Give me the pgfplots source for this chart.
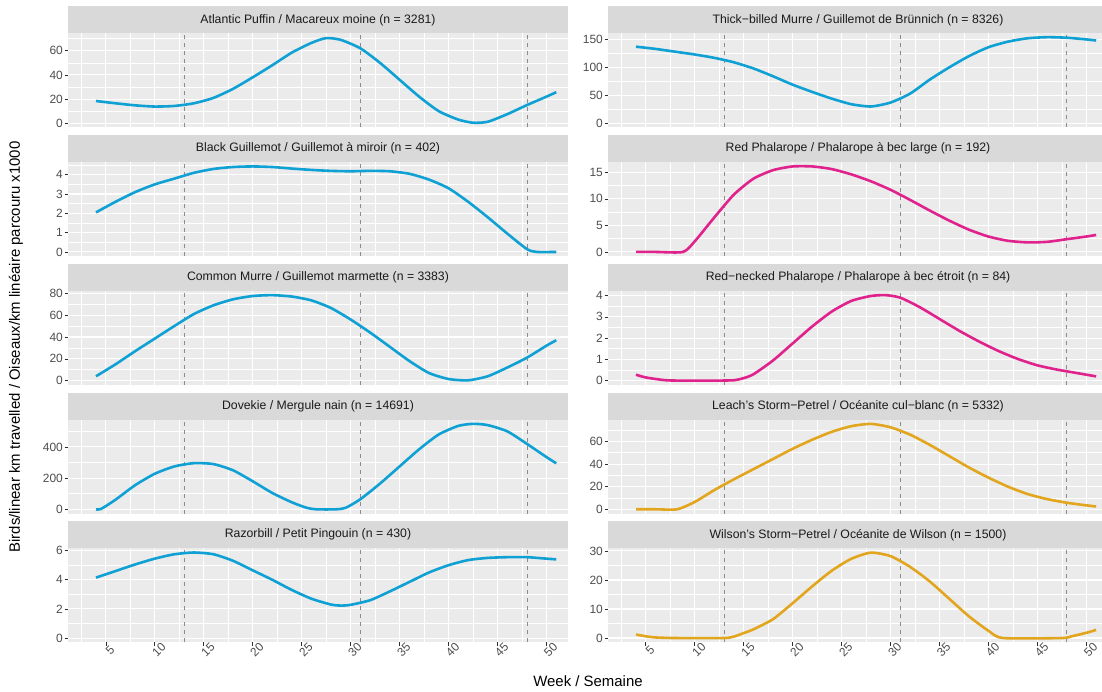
\documentclass[border=0pt]{standalone}
\usepackage{pgfplots}
\pgfplotsset{compat=1.18}
\usepackage{fontspec}
\setmainfont{Liberation Sans}
\definecolor{panelbg}{HTML}{EBEBEB}
\definecolor{stripbg}{HTML}{D9D9D9}
\definecolor{ticklab}{HTML}{4D4D4D}
\definecolor{striptext}{HTML}{1A1A1A}
\definecolor{dashgray}{HTML}{8C8C8C}
\definecolor{cblue}{HTML}{0FA0D4}
\definecolor{cmag}{HTML}{E0228C}
\definecolor{cgold}{HTML}{E2A51E}

\pgfplotsset{
  facet/.style={
    scale only axis, height=94bp, anchor=south west,
    xmin=1.14,
    axis background/.style={fill=panelbg},
    axis line style={draw=none},
    grid=both,
    major grid style={white, line width=1.1bp},
    minor grid style={white, line width=0.55bp},
    xtick={5,10,...,50},
    minor xtick={2.5,7.5,...,52.5},
    tick pos=left,
    tick align=outside,
    major tick length=3.5bp,
    minor tick length=0pt,
    ytick style={draw=ticklab!60!black, line width=0.6bp},
    yticklabel style={font=\fontsize{12}{14}\selectfont, text=ticklab, inner sep=1.5bp},
    /pgf/number format/assume math mode=true,
    every axis plot/.append style={line width=2.6bp, smooth, tension=0.4},
  },
  leftcol/.style={facet, width=500bp, xmax=52.2},
  rightcol/.style={facet, width=494bp, xmax=51.6},
  toprow/.style={xticklabels={}, xtick style={draw=none}},
  bottomrow/.style={
    xtick style={draw=ticklab!60!black, line width=0.6bp},
    xticklabel style={rotate=45, anchor=center, yshift=-6bp, font=\fontsize{12}{14}\selectfont, text=ticklab},
  },
}

\newcommand{\vl}[1]{%
  \draw[dashgray, dash pattern=on 4bp off 4bp, line width=0.7bp] ({axis cs:#1,0} |- {rel axis cs:0,0}) -- ({axis cs:#1,0} |- {rel axis cs:0,1});}
\newcommand{\vlines}{\vl{13}\vl{31}\vl{48}}

\newcommand{\strip}[3]{%
  \fill[stripbg] (#1.north west) rectangle ([yshift=27bp]#1.north east);
  \node[font=\fontsize{12.3}{14}\selectfont, text=striptext] at ([yshift=13.5bp]#2,0 |- #1.north) {#3};
}

\begin{document}
\begin{tikzpicture}
\useasboundingbox (0,0) rectangle (1102bp,692bp);

% ---------- Row 1 ----------
\begin{axis}[leftcol, toprow, name=L1, at={(68bp,564.5bp)},
  ymin=-3.54, ymax=74.3, ytick={0,20,40,60}, minor ytick={10,30,50,70}]
\vlines
\addplot[cblue] coordinates {(4,18.4)(6,16.5)(8,14.8)(10,13.8)(12,14.3)(14,16.5)(16,21)(18,28.5)(20,38)(22,48)(24,58.5)(26,66.5)(27.5,70.5)(29,69)(31,62)(33,50)(35,36)(37,22)(39,10)(41,3)(42.5,0.4)(44,1.2)(46,7.5)(48,15)(50,22)(51,25.7)};
\end{axis}
\begin{axis}[rightcol, toprow, name=R1, at={(608bp,564.5bp)},
  ymin=-7.65, ymax=160.6, ytick={0,50,100,150}, minor ytick={25,75,125}]
\vlines
\addplot[cblue] coordinates {(4,137)(6,133)(8,128)(10,123)(12,117)(14,109)(16,98)(18,84)(20,69)(22,56)(24,44)(26,34)(28,30)(30,37)(32,53)(34,78)(36,100)(38,120)(40,136)(42,146)(44,152)(46,154)(48,153)(50,150)(51,148)};
\end{axis}

% ---------- Row 2 ----------
\begin{axis}[leftcol, toprow, name=L2, at={(68bp,435.8bp)},
  ymin=-0.22, ymax=4.65, ytick={0,1,2,3,4}, minor ytick={0.5,1.5,2.5,3.5,4.5}]
\vlines
\addplot[cblue] coordinates {(4,2.05)(6,2.6)(8,3.1)(10,3.5)(12,3.8)(14,4.1)(16,4.3)(18,4.4)(20,4.43)(22,4.4)(24,4.32)(26,4.25)(28,4.2)(30,4.18)(32,4.2)(34,4.18)(36,4.05)(38,3.75)(40,3.3)(42,2.6)(44,1.8)(46,0.95)(48,0.15)(49,0)(51,0)};
\end{axis}
\begin{axis}[rightcol, toprow, name=R2, at={(608bp,435.8bp)},
  ymin=-0.8, ymax=16.9, ytick={0,5,10,15}, minor ytick={2.5,7.5,12.5}]
\vlines
\addplot[cmag] coordinates {(4,0)(6,0)(8.8,0)(10,2)(12,6.5)(14,10.8)(16,13.8)(18,15.4)(20,16.1)(22,16.1)(24,15.6)(26,14.6)(28,13.3)(30,11.7)(32,9.8)(34,7.8)(36,5.9)(38,4.2)(40,2.9)(42,2.1)(44,1.8)(46,1.9)(48,2.4)(50,2.9)(51,3.2)};
\end{axis}

% ---------- Row 3 ----------
\begin{axis}[leftcol, toprow, name=L3, at={(68bp,307.1bp)},
  ymin=-3.9, ymax=82.2, ytick={0,20,40,60,80}, minor ytick={10,30,50,70}]
\vlines
\addplot[cblue] coordinates {(4,4)(6,15)(8,27)(10,38.5)(12,50)(14,61)(16,69)(18,74.5)(20,77.5)(22,78.3)(24,77)(26,73.5)(28,66.5)(30,56)(32,44)(34,31)(36,18)(38,7)(40,1.5)(42,0.3)(44,4)(46,12)(48,21)(50,32)(51,37)};
\end{axis}
\begin{axis}[rightcol, toprow, name=R3, at={(608bp,307.1bp)},
  ymin=-0.2, ymax=4.22, ytick={0,1,2,3,4}, minor ytick={0.5,1.5,2.5,3.5}]
\vlines
\addplot[cmag] coordinates {(4,0.28)(5,0.15)(7,0.02)(9,0)(12,0)(14,0.02)(15,0.12)(16,0.3)(18,0.95)(20,1.75)(22,2.55)(24,3.25)(26,3.75)(28,3.98)(29.5,4.02)(31,3.9)(33,3.45)(35,2.9)(37,2.35)(39,1.85)(41,1.4)(43,1.02)(45,0.72)(47,0.52)(49,0.36)(51,0.2)};
\end{axis}

% ---------- Row 4 ----------
\begin{axis}[leftcol, toprow, name=L4, at={(68bp,178.4bp)},
  ymin=-27.4, ymax=575.4, ytick={0,200,400}, minor ytick={100,300,500}]
\vlines
\addplot[cblue] coordinates {(4,0)(4.5,2)(6,62)(8,155)(10,228)(12,275)(14,296)(16,290)(18,250)(20,180)(22,105)(24,45)(25.5,10)(26.5,0)(28.5,0)(29.5,10)(31,65)(33,165)(35,275)(37,385)(39,480)(41,535)(42.5,548)(44,540)(46,500)(48,420)(50,335)(51,295)};
\end{axis}
\begin{axis}[rightcol, toprow, name=R4, at={(608bp,178.4bp)},
  ymin=-3.8, ymax=79.3, ytick={0,20,40,60}, minor ytick={10,30,50,70}]
\vlines
\addplot[cgold] coordinates {(4,0)(6,0)(8.2,0)(10,6.5)(12,17)(14,26.5)(16,35.5)(18,44.5)(20,53.5)(22,61.5)(24,68.5)(26,73.5)(28,75.5)(30,72.5)(32,66)(34,57)(36,47)(38,37)(40,28)(42,20)(44,13.5)(46,9)(48,5.8)(50,3.5)(51,2.5)};
\end{axis}

% ---------- Row 5 ----------
\begin{axis}[leftcol, bottomrow, name=L5, at={(68bp,49.7bp)},
  ymin=-0.29, ymax=6.16, ytick={0,2,4,6}, minor ytick={1,3,5}]
\vlines
\addplot[cblue] coordinates {(4,4.15)(6,4.6)(8,5.05)(10,5.45)(12,5.75)(14,5.87)(16,5.75)(18,5.3)(20,4.65)(22,4.0)(24,3.3)(26,2.7)(28,2.3)(29,2.23)(30,2.28)(32,2.6)(34,3.2)(36,3.85)(38,4.5)(40,5.0)(42,5.35)(44,5.5)(46,5.55)(48,5.55)(50,5.45)(51,5.4)};
\end{axis}
\begin{axis}[rightcol, bottomrow, name=R5, at={(608bp,49.7bp)},
  ymin=-1.47, ymax=30.9, ytick={0,10,20,30}, minor ytick={5,15,25}]
\vlines
\addplot[cgold] coordinates {(4,1.2)(5,0.6)(6,0.2)(8,0)(13,0)(14,0.5)(15,1.7)(16,3)(18,6.5)(20,12)(22,17.8)(24,23.2)(26,27.3)(28,29.4)(30,28.2)(32,24.5)(34,19.5)(36,13.5)(38,7.5)(40,2.5)(41.5,0)(47.5,0)(48.5,0.6)(50,1.8)(51,2.8)};
\end{axis}

% ---------- Strips ----------
\strip{L1}{318bp}{Atlantic Puffin / Macareux moine (n = 3281)}
\strip{R1}{858bp}{Thick−billed Murre / Guillemot de Brünnich (n = 8326)}
\strip{L2}{318bp}{Black Guillemot / Guillemot à miroir (n = 402)}
\strip{R2}{858bp}{Red Phalarope / Phalarope à bec large (n = 192)}
\strip{L3}{318bp}{Common Murre / Guillemot marmette (n = 3383)}
\strip{R3}{858bp}{Red−necked Phalarope / Phalarope à bec étroit (n = 84)}
\strip{L4}{318bp}{Dovekie / Mergule nain (n = 14691)}
\strip{R4}{858bp}{Leach's Storm−Petrel / Océanite cul−blanc (n = 5332)}
\strip{L5}{318bp}{Razorbill / Petit Pingouin (n = 430)}
\strip{R5}{858bp}{Wilson's Storm−Petrel / Océanite de Wilson (n = 1500)}

% ---------- Axis titles ----------
\node[font=\fontsize{15}{18}\selectfont] at (588bp,11bp) {Week / Semaine};
\node[rotate=90, font=\fontsize{15}{18}\selectfont] at (16bp,345bp) {Birds/linear km travelled / Oiseaux/km linéaire parcouru x1000};
\end{tikzpicture}
\end{document}
